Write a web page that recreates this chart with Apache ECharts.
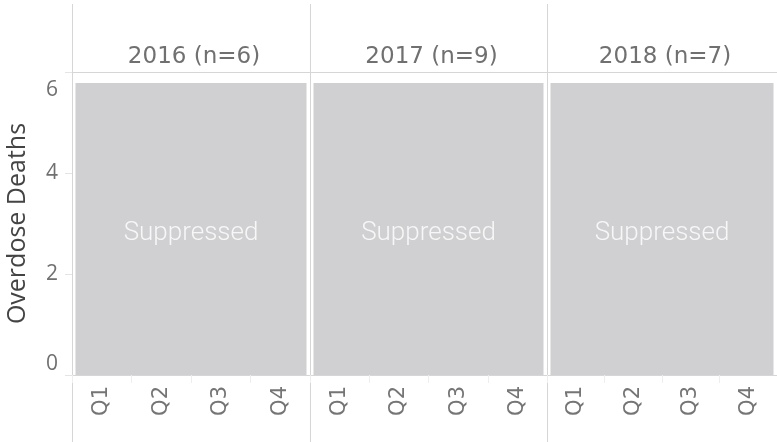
<!DOCTYPE html>
<html>
<head>
<meta charset="utf-8">
<script src="https://cdn.jsdelivr.net/npm/echarts@6/dist/echarts.min.js"></script>
<style>html,body{margin:0;padding:0;background:#fff}#c{width:777px;height:442px}</style>
</head>
<body>
<div id="c"></div>
<script>
const years = ['2016 (n=6)', '2017 (n=9)', '2018 (n=7)'];
const quarters = ['Q1', 'Q2', 'Q3', 'Q4'];
const suppressedHeight = [5.78, 5.78, 5.78];
const suppressedLabel = 'Suppressed';
const yMin = 0, yMax = 6, yInterval = 2;
const yAxisName = 'Overdose Deaths';

const W = 777, H = 442;
const panelLeft = [72, 310, 547];
const panelWidth = [238, 237, 230];
const plotTop = 72, plotBottom = 375;
const lineColor = '#d6d6d6';
const font = 'DejaVu Sans';

const grid = [], xAxis = [], yAxis = [], series = [], title = [], graphic = [];
for (let i = 0; i < 3; i++) {
  grid.push({ left: panelLeft[i], width: panelWidth[i], top: plotTop, height: plotBottom - plotTop, containLabel: false });
  xAxis.push({
    type: 'category', gridIndex: i, data: quarters,
    axisLine: { show: true, lineStyle: { color: lineColor } },
    axisTick: { show: true, interval: 0, length: 8, lineStyle: { color: '#eeeeee' } },
    axisLabel: { rotate: 90, fontSize: 21, color: '#757575', margin: 11, fontFamily: font }
  });
  yAxis.push({
    type: 'value', gridIndex: i, min: yMin, max: yMax, interval: yInterval,
    splitLine: { show: false },
    axisLine: { show: false },
    axisTick: { show: i === 0, length: 7, lineStyle: { color: '#e4e4e4' } },
    axisLabel: { show: i === 0, fontSize: 21, color: '#707070', margin: 14, fontFamily: 'Open Sans',
      verticalAlignMinLabel: 'bottom', verticalAlignMaxLabel: 'top',
      formatter: v => v === yMax ? '{top|' + v + '}' : String(v),
      rich: { top: { fontSize: 21, color: '#707070', fontFamily: 'Open Sans', padding: [8, 0, 0, 0] } } },
    name: i === 0 ? yAxisName : '', nameLocation: 'middle', nameGap: 42,
    nameTextStyle: { fontSize: 25, color: '#444444', fontFamily: 'Open Sans' }
  });
  title.push({
    text: years[i], left: panelLeft[i] + panelWidth[i] / 2 - 2, top: 41, textAlign: 'center',
    textStyle: { fontSize: 23, fontWeight: 'normal', color: '#707070', fontFamily: font }
  });
}
for (let i = 0; i < 3; i++) {
  xAxis.push({ type: 'category', gridIndex: i, data: [years[i]], show: false });
  series.push({
    type: 'bar', xAxisIndex: 3 + i, yAxisIndex: i, data: [suppressedHeight[i]],
    barWidth: panelWidth[i] - 7, barCategoryGap: 0, silent: true,
    itemStyle: { color: '#d0cfd1' },
    label: { show: true, position: 'inside', offset: [0, 4], formatter: suppressedLabel, color: '#f7f7f7',
      fontSize: 26, fontWeight: 300, fontFamily: 'Roboto' }
  });
}
panelLeft.forEach(x => graphic.push({ type: 'line', silent: true,
  shape: { x1: x + 0.5, y1: 4, x2: x + 0.5, y2: H }, style: { stroke: lineColor, lineWidth: 1 } }));
graphic.push({ type: 'line', silent: true, shape: { x1: 65, y1: plotTop + 0.5, x2: W, y2: plotTop + 0.5 },
  style: { stroke: lineColor, lineWidth: 1 } });

const chart = echarts.init(document.getElementById('c'), null, { renderer: 'canvas' });
chart.setOption({ animation: false, backgroundColor: '#fff', title, grid, xAxis, yAxis, series, graphic });
</script>
</body>
</html>
